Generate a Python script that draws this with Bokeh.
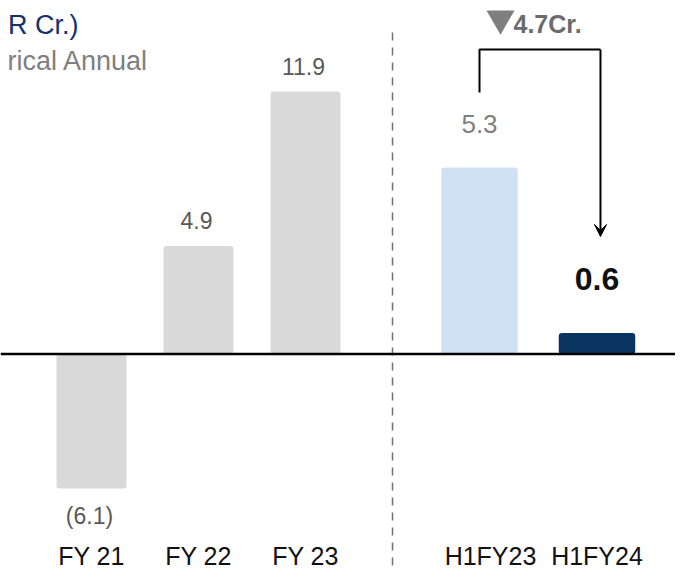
from bokeh.plotting import figure
from bokeh.models import Range1d, Span, Arrow, VeeHead, ColumnDataSource
from bokeh.core.properties import value
from bokeh.embed import file_html
from bokeh.resources import INLINE

# ---- data ----
annual_cats = ["FY 21", "FY 22", "FY 23"]
annual_vals = [-6.1, 4.9, 11.9]
annual_labels = ["(6.1)", "4.9", "11.9"]

half_cats = ["H1FY23", "H1FY24"]
half_vals = [5.3, 0.6]
half_labels = ["5.3", "0.6"]

change_label = "4.7Cr."
unit_text = "R Cr.)"
section_text = "rical Annual"

FONT = "Liberation Sans"

# ---- layout ----
W, H = 675, 570
PX_PER_X = 107.0
X0_PX = 91.0             # pixel position of first bar centre
BASE_PX = 353.5          # baseline from top of frame
LEFT_PX_PER_UNIT = 22.05
RIGHT_PX_PER_UNIT = 35.2


def ux(px):
    return (px - X0_PX) / PX_PER_X


def ly(px):
    return (BASE_PX - px) / LEFT_PX_PER_UNIT


def ry(px):
    return (BASE_PX - px) / RIGHT_PX_PER_UNIT


p = figure(width=W, height=H, output_backend="svg", toolbar_location=None,
           x_range=Range1d(ux(0), ux(W)),
           y_range=Range1d(ly(H), ly(0)),
           min_border=0, outline_line_color=None)
p.extra_y_ranges = {"right": Range1d(ry(H), ry(0))}
p.xaxis.visible = False
p.yaxis.visible = False
p.grid.visible = False
p.background_fill_color = "white"

ax = [float(i) for i in range(len(annual_cats))]
hx = [ux(479) + 1.098 * j for j in range(len(half_cats))]

# annual bars
src_a = ColumnDataSource(dict(x=ax, top=annual_vals, lab=annual_labels,
                              yoff=[27 if v < 0 else -25 for v in annual_vals]))
p.vbar(x="x", top="top", bottom=0, width=0.654, source=src_a,
       fill_color="#d9d9d9", line_color=None, border_radius=3)
p.text(x="x", y="top", text="lab", source=src_a, y_offset="yoff", x_offset=-2,
       text_align="center", text_baseline="middle", text_font=value(FONT),
       text_font_size="23px", text_color="#595959")

# half-year bars
src_h = ColumnDataSource(dict(x=hx, top=half_vals, color=["#cfe2f3", "#0b3561"]))
p.vbar(x="x", top="top", bottom=0, width=0.715, source=src_h, y_range_name="right",
       fill_color="color", line_color=None, border_radius=3)
p.text(x=[hx[0]], y=[half_vals[0]], text=[half_labels[0]], y_offset=-43, y_range_name="right",
       text_align="center", text_baseline="middle", text_font=value(FONT),
       text_font_size="26px", text_color="#7f7f7f")
p.text(x=[hx[1]], y=[half_vals[1]], text=[half_labels[1]], y_offset=-54, y_range_name="right",
       text_align="center", text_baseline="middle", text_font=value(FONT),
       text_font_size="32px", text_font_style="bold", text_color="#111111")

# baseline
p.add_layout(Span(location=0, dimension="width", line_color="#000000", line_width=2.5))

# divider
div_x = (ax[-1] + hx[0]) / 2
p.segment(x0=[div_x], y0=[ly(32)], x1=[div_x], y1=[ly(H + 10)], line_color="#707070",
          line_width=1.5, line_dash="8 7")

# category labels
cat_x = ax + [hx[0] + ux(490) - ux(479), hx[1]]
p.text(x=cat_x, y=[ly(H - 1)] * 5, text=annual_cats + half_cats,
       text_align="center", text_baseline="bottom", text_font=value(FONT),
       text_font_size="25px", text_color="#111111")

# bracket
br_top = ry(49)
br_left_bottom = ry(92)
arrow_tip = ry(236)
xl, xr = hx[0], hx[1] + ux(600) - ux(596.5)
p.line(x=[xl, xl, xr], y=[br_left_bottom, br_top, br_top],
       y_range_name="right", line_color="#000000", line_width=2)
p.add_layout(Arrow(x_start=xr, y_start=br_top, x_end=xr, y_end=arrow_tip,
                   y_range_name="right", line_color="#000000", line_width=2,
                   end=VeeHead(size=12, fill_color="#000000", line_color="#000000")))

# change label
p.scatter(x=[ux(500)], y=[ry(18)], marker="inverted_triangle", size=28,
          y_range_name="right", fill_color="#7f7f7f", line_color=None)
p.text(x=[ux(513)], y=[ry(23.5)], text=[change_label], y_range_name="right",
       text_align="left", text_baseline="middle", text_font=value(FONT),
       text_font_size="25px", text_font_style="bold", text_color="#6b6b6b")

# header texts (cropped)
p.text(x=[ux(78)], y=[ly(24)], text=[unit_text],
       text_align="right", text_baseline="middle", text_font=value(FONT),
       text_font_size="27px", text_color="#14306e")
p.text(x=[ux(148)], y=[ly(60.5)], text=[section_text],
       text_align="right", text_baseline="middle", text_font=value(FONT),
       text_font_size="27px", text_color="#7f7f7f")

open("out.html", "w").write(file_html(p, INLINE))
